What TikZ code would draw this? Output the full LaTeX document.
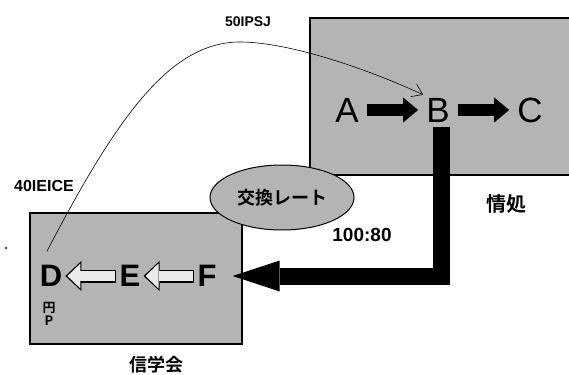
\documentclass[tikz,border=0pt]{standalone}
\usepackage{fontspec}
\setmainfont{Liberation Sans}
\newfontfamily\jp{Noto Sans CJK JP}[BoldFont={Noto Sans CJK JP Bold}]
\usepackage{tikz}
\usetikzlibrary{positioning,arrows.meta,shapes.geometric,calc}
\definecolor{screen}{HTML}{B4B4B4}
\definecolor{hollow}{HTML}{EAEAEA}
\newcommand{\fs}[1]{\fontsize{#1}{#1}\selectfont}

\begin{document}
\begin{tikzpicture}[x=1pt,y=-1pt,every node/.style={inner sep=3pt}]
      \tikzstyle{panel}=[draw,line width=1.2pt,fill=screen];
      \tikzstyle{letter}=[font=\fs{35}];
      \tikzstyle{bletter}=[font=\fs{31}\bfseries];
      \tikzstyle{lbl}=[font=\fs{14}\bfseries];
      \tikzstyle{jlbl}=[font=\jp\fs{20}\bfseries];
      \tikzstyle{solidarr}=[line width=12pt,-{Triangle[length=15pt,width=25pt,line width=0pt]},
                            shorten >=5pt,shorten <=5pt];
      \tikzstyle{hollowout}=[line width=13pt,-{Triangle[length=16pt,width=30pt,line width=0pt]}];
      \tikzstyle{hollowin}=[line width=10pt,hollow,-{Triangle[length=13pt,width=25pt,line width=0pt]},
                            shorten >=2pt,shorten <=1.5pt];
      \tikzstyle{fat}=[line width=17pt,-{Triangle[length=47pt,width=31pt,line width=0pt]}];
      \tikzstyle{link}=[line width=0.6pt,-{Straight Barb[length=10pt,width=14pt]}];
      \useasboundingbox (0,0) rectangle (569,374);
      % panels
      \node[panel,minimum width=262pt,minimum height=157pt] (ipsj) at (441,96.5) {};
      \node[panel,minimum width=212pt,minimum height=131pt] (ieice) at (136,278.5) {};
      \node[jlbl] (ipsjname) at (506,204) {情処};
      \node[font=\jp\fs{18}\bfseries] (ieicename) at (156,365) {信学会};
      % letters
      \node[letter] (A) at (347,110) {A};
      \node[letter] (B) at (438,110) {B};
      \node[letter] (C) at (530,110) {C};
      \node[bletter] (D) at (51,276) {D};
      \node[bletter] (E) at (130,276) {E};
      \node[bletter] (F) at (207,276) {F};
      \node[font=\jp\fs{13}\bfseries,align=center,inner sep=0pt] (dnote) at (49,314) {円\\P};
      \draw[solidarr] (A) -- (B);
      \draw[solidarr] (B) -- (C);
      \draw[hollowout] (F.west) -- (E.east);
      \draw[hollowin]  (F.west) -- (E.east);
      \draw[hollowout] (E.west) -- (D.east);
      \draw[hollowin]  (E.west) -- (D.east);
      % exchange
      \draw[fat,shorten >=13pt,shorten <=1.5pt] ([xshift=3pt]B.south) |- (F.east);
      \node[ellipse,draw,line width=1pt,fill=screen,minimum width=144pt,minimum height=65pt,
            font=\jp\fs{18}\bfseries] (rate) at (282,197.5) {交換レート};
      \node[font=\fs{19}\bfseries] (ratio) at (362,235) {100:80};
      \node[lbl] (ipsjpts) at (248,22) {50IPSJ};
      \node[font=\fs{16}\bfseries] (ieicepts) at (44,186) {40IEICE};
      \coordinate (crest) at (240,42);
      \draw[link] ([xshift=-4pt,yshift=11pt]D.north) .. controls (117,117) and (170,42) .. (crest)
           .. controls (290,42) and (370,70) .. (B.north west);
      \fill (6,248) circle (1.2pt);
    \end{tikzpicture}
\end{document}
